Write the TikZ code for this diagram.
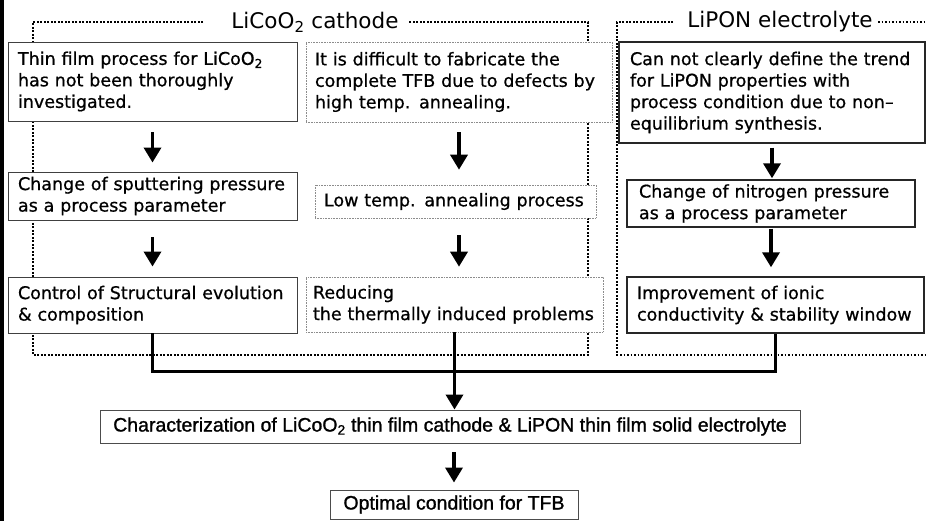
\documentclass[tikz,border=0pt]{standalone}
\usepackage{fontspec}
\setmainfont[FakeBold=0.7]{DejaVu Sans}
\newfontfamily\titlefont{DejaVu Sans}
\newfontfamily\narrowfont[FakeBold=1.2]{Liberation Sans}
\usetikzlibrary{arrows.meta}

\tikzset{
  txt/.style={font=\fontsize{17.5}{21.5}\selectfont},
  stepbox/.style={txt, rectangle, fill=white, align=left, inner ysep=2pt},
  plainbox/.style={stepbox, draw=black!75, line width=0.9pt},
  litebox/.style={stepbox, draw=black!45, line width=0.6pt, densely dotted},
  lipbox/.style={stepbox, draw=black!85, line width=1.4pt},
  sumbox/.style={rectangle, fill=white, draw=black!70, line width=0.9pt,
    font=\narrowfont\fontsize{19.5}{22}\selectfont, inner xsep=6pt},
  frame/.style={line width=1.9pt, dash pattern=on 1.9pt off 1.6pt},
  title/.style={font=\titlefont\fontsize{21.5}{24}\selectfont, inner sep=0pt},
  arr/.style={line width=3.5pt, -{Triangle[width=17pt,length=15pt]}},
  link/.style={line width=3pt},
}

\begin{document}
\begin{tikzpicture}[x=1pt,y=-1pt]
\useasboundingbox (0,0) rectangle (927,521);

% left margin bar
\draw[line width=3.5pt] (1.75,0) -- (1.75,521);

% group frames and their titles
\node[title] (tL) at (315,22) {LiCoO\textsubscript{2} cathode};
\node[title] (tR) at (780,22) {LiPON electrolyte};
\draw[frame] (203,22) -- (33,22) -- (33,355) -- (588,355) -- (588,22) -- (408,22);
\draw[frame] (673,22) -- (617,22) -- (617,355) -- (927,355);
\draw[frame] (878,22) -- (927,22);

% LiCoO2 column: process
\node[plainbox, inner xsep=10pt, text width=269pt, minimum height=79pt] (b1) at (152.5,81.5)
  {Thin film process for LiCoO\textsubscript{2}\\has not been thoroughly\\investigated.};
\node[plainbox, inner xsep=10pt, text width=269pt, minimum height=48pt] (b4) at (152.5,196)
  {Change of sputtering pressure\\as a process parameter};
\node[plainbox, inner xsep=10pt, text width=269pt, minimum height=56pt] (b7) at (152.5,305)
  {Control of Structural evolution\\\& composition};

% LiCoO2 column: annealing
\node[litebox, inner xsep=9pt, text width=288pt, minimum height=80pt] (b2) at (459,82)
  {It is difficult to fabricate the\\complete TFB due to defects by\\high temp. annealing.};
\node[litebox, inner xsep=9pt, text width=263pt, minimum height=33pt] (b5) at (455.5,201.5)
  {Low temp. annealing process};
\node[litebox, inner xsep=7pt, text width=283pt, minimum height=55pt] (b8) at (454.5,304.5)
  {Reducing\\the thermally induced problems};

% LiPON column
\node[lipbox, inner xsep=11pt, text width=284pt, minimum height=101pt] (b3) at (772,92.5)
  {Can not clearly define the trend\\for LiPON properties with\\process condition due to non–\\equilibrium synthesis.};
\node[lipbox, inner xsep=12pt, text width=264pt, minimum height=47pt] (b6) at (771,203.5)
  {Change of nitrogen pressure\\as a process parameter};
\node[lipbox, inner xsep=10pt, text width=277pt, minimum height=56pt] (b9) at (775.5,305)
  {Improvement of ionic\\conductivity \& stability window};

% summary boxes
\node[sumbox, minimum width=700pt, minimum height=33pt] (b10) at (450,426.5)
  {Characterization of LiCoO\textsubscript{2} thin film cathode \& LiPON thin film solid electrolyte};
\node[sumbox, minimum width=248pt, minimum height=29pt] (b11) at (454,504.5)
  {Optimal condition for TFB};

% arrows inside the columns
\draw[arr, shorten <=11pt, shorten >=9pt] (b1.south) -- (b4.north);
\draw[arr, shorten <=10pt, shorten >=15pt] (b2.south) -- (b2.south |- b5.north);
\draw[arr, shorten <=17pt, shorten >=10pt] (b4.south) -- (b7.north);
\draw[arr, shorten <=17pt, shorten >=10pt] (b2.south |- b5.south) -- (b2.south |- b8.north);
\draw[arr, shorten <=4pt, shorten >=1pt] (b3.south) -- (b3.south |- b6.north);
\draw[arr, shorten <=1pt, shorten >=9pt] (b6.south) -- (b6.south |- b9.north);

% merging the three results
\coordinate (jL) at ([yshift=-38pt]b7.south);
\coordinate (jR) at (b9.south |- jL);
\draw[link] (b7.south) -- (jL) -- (jR) -- (b9.south);
\draw[arr, shorten >=0pt] (b8.south) -- (b8.south |- b10.north);

% final step
\draw[arr, shorten <=9pt, shorten >=7pt] (b11.north |- b10.south) -- (b11.north);
\end{tikzpicture}
\end{document}
